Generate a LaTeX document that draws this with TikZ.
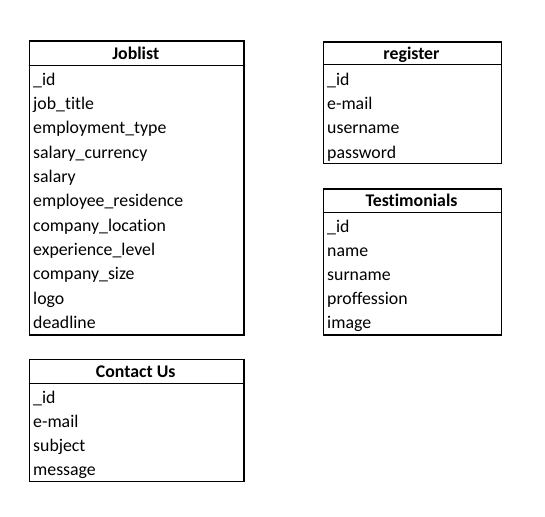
\documentclass[tikz,border=0pt]{standalone}
\usepackage{fontspec}
\setmainfont[Ligatures={NoCommon}]{Carlito}
\begin{document}
\begin{tikzpicture}[x=1pt,y=-1pt,
  tbl/.style={draw, line width=1.6pt, anchor=north west, inner sep=0pt},
  sep/.style={line width=1.6pt},
  hdr/.style={font=\fontsize{17.8}{19}\selectfont\bfseries, inner sep=0pt, text height=10pt, text depth=3pt},
  fld/.style={font=\fontsize{17.8}{19}\selectfont, anchor=west, inner sep=0pt, text height=10pt, text depth=3pt}]
\useasboundingbox (0,0) rectangle (545,516);

% Joblist
\node[tbl, minimum width=214.5pt, minimum height=293.5pt] (joblist) at (28.5,40.5) {};
\coordinate (jl1) at (28.5,65.5); \coordinate (jl2) at (243,65.5);
\draw[sep] (jl1) -- (jl2);
\node[hdr] (joblist-h) at (135.75,55.8) {Joblist};
\foreach \t [count=\i from 0] in {\_id,job\_title,employment\_type,salary\_currency,salary,employee\_residence,company\_location,experience\_level,company\_size,logo,deadline}
  \node[fld] (joblist-\i) at (33,81.5+24.35*\i) {\t};

% register
\node[tbl, minimum width=178pt, minimum height=121.5pt] (register) at (322.5,41) {};
\coordinate (rg1) at (322.5,64.5); \coordinate (rg2) at (500.5,64.5);
\draw[sep] (rg1) -- (rg2);
\node[hdr] (register-h) at (411.5,55.8) {register};
\foreach \t [count=\i from 0] in {\_id,e-mail,username,password}
  \node[fld] (register-\i) at (327,81.5+24.35*\i) {\t};

% Testimonials
\node[tbl, minimum width=178pt, minimum height=146pt] (testi) at (322.5,188) {};
\coordinate (ts1) at (322.5,212.5); \coordinate (ts2) at (500.5,212.5);
\draw[sep] (ts1) -- (ts2);
\node[hdr] (testi-h) at (411.5,203.3) {Testimonials};
\foreach \t [count=\i from 0] in {\_id,name,surname,proffession,image}
  \node[fld] (testi-\i) at (327,228.5+24.2*\i) {\t};

% Contact Us
\node[tbl, minimum width=214.5pt, minimum height=122pt] (contact) at (28.5,358.5) {};
\coordinate (cu1) at (28.5,383.5); \coordinate (cu2) at (243,383.5);
\draw[sep] (cu1) -- (cu2);
\node[hdr] (contact-h) at (135.75,374.3) {Contact Us};
\foreach \t [count=\i from 0] in {\_id,e-mail,subject,message}
  \node[fld] (contact-\i) at (33,399.5+24.2*\i) {\t};
\end{tikzpicture}
\end{document}
